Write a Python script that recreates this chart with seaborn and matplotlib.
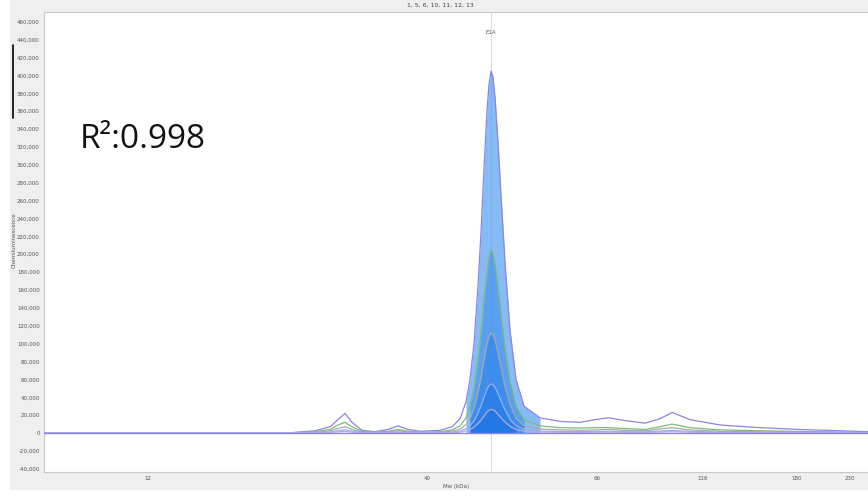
import numpy as np
import pandas as pd
import seaborn as sns
import matplotlib.pyplot as plt
from matplotlib.lines import Line2D
from matplotlib.patches import Rectangle
from matplotlib.ticker import FixedLocator, FuncFormatter, NullLocator

# --- data (Mw in kDa, chemiluminescence signal) ---
mw_kda = [7.66, 18.6, 22.14, 24.68, 26.33, 27.25, 28.08, 28.94, 30.22, 31.96, 33.81, 35.30, 36.86, 38.81,
          41.56, 43.07, 44.10, 44.87, 45.40, 45.94, 46.49, 46.90, 47.31, 47.73,
          48.01, 48.31, 48.59, 48.88, 49.31, 49.75, 50.34, 51.08, 51.99, 53.24,
          55.80, 59.18, 62.80, 65.6, 70.0, 76.6, 85.2, 92.3, 98.4, 108.2, 125.6, 151.4, 182.0, 250.0]

trace_a = [0, 0, 300, 2500, 7000, 15000, 22000, 12000, 3000, 1500, 4000, 8000, 4000, 2000,
           3000, 7000, 16000, 35000, 60000, 100000, 165000, 225000, 295000, 360000,
           390000, 405000, 398000, 375000, 325000, 265000, 190000, 115000, 60000, 30000,
           17000, 13000, 12000, 15000, 17000, 14000, 11000, 16000, 23000, 15000, 9000, 6000, 4000, 1500]
trace_b = [0, 0, 150, 1500, 4000, 9000, 12000, 7000, 1800, 900, 2000, 4000, 2000, 1000,
           1500, 3500, 8000, 17000, 30000, 50000, 83000, 113000, 148000, 180000,
           196000, 205000, 200000, 188000, 163000, 133000, 95000, 58000, 30000, 15000,
           8000, 6000, 5500, 6000, 6000, 5000, 4000, 7000, 10000, 6000, 3500, 2500, 1800, 700]
trace_c = [0, 0, 80, 900, 2400, 5200, 7000, 4000, 1000, 500, 1200, 2500, 1200, 600,
           800, 1900, 4400, 9500, 16500, 27500, 46000, 62000, 82000, 100000,
           108000, 112000, 110000, 104000, 90000, 73000, 52000, 32000, 16500, 8000,
           4500, 3500, 3000, 3500, 4000, 3000, 2500, 4500, 6000, 3500, 2000, 1500, 1000, 400]
trace_d = [0, 0, 40, 450, 1200, 2600, 3500, 2000, 500, 250, 600, 1200, 600, 300,
           400, 950, 2200, 4700, 8200, 13600, 22500, 30500, 40000, 49000,
           53000, 55000, 54000, 51000, 44000, 36000, 26000, 15500, 8200, 4000,
           2200, 1700, 1500, 1700, 2000, 1500, 1300, 2200, 3000, 1800, 1000, 800, 500, 200]
trace_e = [0, 0, 20, 220, 600, 1300, 1700, 1000, 250, 120, 300, 600, 300, 150,
           200, 450, 1000, 2200, 3900, 6500, 10700, 14500, 19000, 23500,
           25500, 26500, 26000, 24500, 21000, 17000, 12300, 7500, 4000, 2000,
           1100, 850, 750, 850, 1000, 750, 600, 1100, 1500, 900, 500, 400, 250, 100]

trace_names = ["1", "2", "3", "4", "5"]
ladder_kda = [12, 40, 66, 116, 180, 230]
peak_name = "E1A"
peak_kda = 48.31
r_squared = "R\u00b2:0.998"
title_text = "1, 5, 6, 10, 11, 12, 13"

df = pd.DataFrame({
    "kDa": mw_kda * 5,
    "signal": trace_a + trace_b + trace_c + trace_d + trace_e,
    "trace": np.repeat(trace_names, len(mw_kda)),
})

# Compass-style Mw axis: piecewise log-linear between ladder standards
anchor_log = np.log10([1, 7.66, 12, 40, 66, 116, 180, 230, 250, 1000])
anchor_pos = np.array([-472, 0, 104, 383, 553, 659, 753, 806, 824, 1124], dtype=float)


def mw_forward(x):
    x = np.clip(np.asarray(x, dtype=float), 1e-3, None)
    return np.interp(np.log10(x), anchor_log, anchor_pos)


def mw_inverse(p):
    return 10 ** np.interp(np.asarray(p, dtype=float), anchor_pos, anchor_log)


sns.set_theme(style="white")
plt.rcParams["font.family"] = ["DejaVu Sans"]

fig = plt.figure(figsize=(8.68, 4.96), dpi=100, facecolor="white")
fig.add_artist(Rectangle((10 / 868, 6 / 496), 1, 1, transform=fig.transFigure,
                         facecolor="#efefef", edgecolor="none", zorder=0))
ax = fig.add_axes([44 / 868, 24 / 496, 1 - 44 / 868, 460 / 496])
ax.set_facecolor("white")
ax.set_xscale("function", functions=(mw_forward, mw_inverse))

line_colors = ["#8c84e6", "#7dbb7a", "#a9a9a9", "#8fb3ea", "#b7a9d8"]

# shaded peak areas
windows = [(44.8, 55.8), (45.4, 53.3), (45.4, 53.3), (45.4, 52.5), (45.4, 52.5)]
fill_colors = ["#5ea4f2", "#2f86ee", "#1f78ea", "#1a72e6", "#1a6fe4"]
fill_alpha = [0.75, 0.5, 0.45, 0.45, 0.45]
for i, name in enumerate(trace_names):
    sub = df[df["trace"] == name]
    lo, hi = windows[i]
    m = (sub["kDa"] >= lo) & (sub["kDa"] <= hi)
    ax.fill_between(sub["kDa"][m], 0, sub["signal"][m], color=fill_colors[i],
                    alpha=fill_alpha[i], linewidth=0, zorder=2)

sns.lineplot(data=df, x="kDa", y="signal", hue="trace", palette=line_colors,
             linewidth=0.9, legend=False, ax=ax, zorder=3)
ax.axhline(0, color="#8c84e6", lw=1.0, zorder=3)

ax.axvline(peak_kda, color="#dcdcdc", lw=0.8, zorder=1)
ax.text(peak_kda, 448000, peak_name, ha="center", va="center", fontsize=4,
        color="#555555")

ax.set_xlim(7.66, 250)
ax.set_ylim(-43600, 471000)
ax.xaxis.set_major_locator(FixedLocator(ladder_kda))
ax.xaxis.set_minor_locator(NullLocator())
ax.xaxis.set_major_formatter(FuncFormatter(lambda v, p: f"{v:g}"))
ax.set_yticks(np.arange(-40000, 460001, 20000))
ax.yaxis.set_major_formatter(FuncFormatter(lambda v, p: f"{v:,.0f}"))
ax.tick_params(axis="both", labelsize=4, colors="#555555", length=0, pad=3)
ax.set_xlabel("Mw (kDa)", fontsize=4, color="#555555", labelpad=2)
ax.set_ylabel("")
for side in ["left", "bottom", "top"]:
    ax.spines[side].set_color("#c8c8c8")
    ax.spines[side].set_linewidth(0.8)
ax.spines["right"].set_visible(False)

fig.text(14 / 868, 1 - 240 / 496, "Chemiluminescence", rotation=90, fontsize=4,
         color="#555555", ha="center", va="center")
fig.text(440 / 868, 1 - 5 / 496, title_text, fontsize=4.5, color="#444444",
         ha="center", va="center")
fig.text(80 / 868, 1 - 140 / 496, r_squared, fontsize=24, color="#111111",
         ha="left", va="center", family=["Open Sans", "DejaVu Sans"])
fig.add_artist(Line2D([13 / 868, 13 / 868], [1 - 45 / 496, 1 - 118 / 496],
                      transform=fig.transFigure, color="black", lw=1.2))

fig.savefig("out.png", dpi=100, facecolor=fig.get_facecolor())
